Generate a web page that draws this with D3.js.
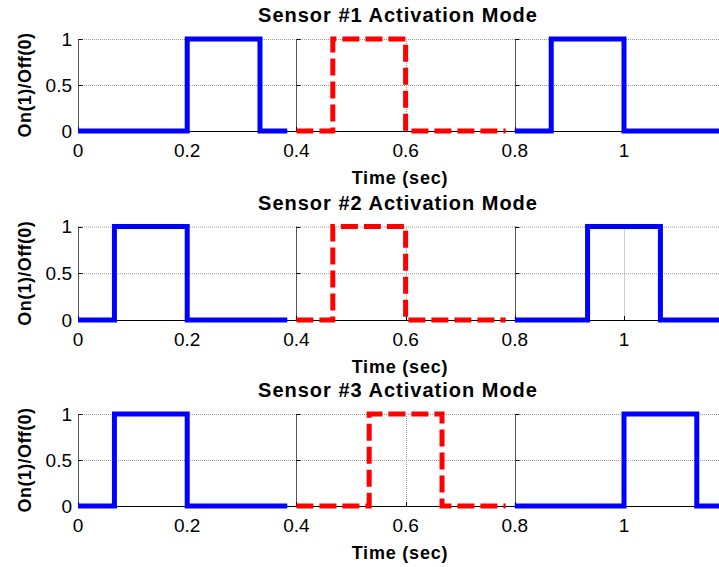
<!DOCTYPE html>
<html>
<head>
<meta charset="utf-8">
<script src="https://cdn.jsdelivr.net/npm/d3@7"></script>
<style>
  html, body { margin: 0; padding: 0; background: #fff; }
  svg { display: block; }
  text { font-family: Arial, "Liberation Sans", Helvetica, sans-serif; fill: #000; }
</style>
</head>
<body>
<svg id="chart" width="719" height="567"></svg>
<script>
// Activation windows: each sensor is observed in three consecutive frames
// of 0.4 s; within each frame the sensor is on between [on, off] seconds.
const sensorNames = ["Sensor #1", "Sensor #2", "Sensor #3"];
const frameStarts = [0, 0.4, 0.8];
const frameEnds = [0.3833, 0.7833, 1.1833];
const frameColors = ["#0000ff", "#ff0000", "#0000ff"];
const frameDashed = [false, true, false];

const sensor1Windows = [[0.2, 0.3333], [0.4667, 0.6], [0.8667, 1.0]];
const sensor2Windows = [[0.0667, 0.2], [0.4667, 0.6], [0.9333, 1.0667]];
const sensor3Windows = [[0.0667, 0.2], [0.5333, 0.6667], [1.0, 1.1333]];
const sensorWindows = [sensor1Windows, sensor2Windows, sensor3Windows];

const xTicks = [0, 0.2, 0.4, 0.6, 0.8, 1];
const xTickLabels = ["0", "0.2", "0.4", "0.6", "0.8", "1"];
const yTicks = [0, 0.5, 1];
const yTickLabels = ["0", "0.5", "1"];

const svg = d3.select("#chart");
const W = 719;

const x = d3.scaleLinear().domain([0, 1.2]).range([78, 733.2]);

// vertical placement of each panel: pixel of value 1 and value 0
const panels = [
  { top: 39, bottom: 131 },
  { top: 226.5, bottom: 320 },
  { top: 414, bottom: 506 }
];

panels.forEach((p, i) => {
  const y = d3.scaleLinear().domain([0, 1]).range([p.bottom, p.top]);
  const g = svg.append("g");

  // dotted grid
  g.selectAll("line.hgrid").data(yTicks.filter(v => v > 0)).join("line")
    .attr("x1", x(0)).attr("x2", W)
    .attr("y1", d => y(d) + 0.5).attr("y2", d => y(d) + 0.5)
    .attr("stroke", "#9a9a9a").attr("stroke-width", 1)
    .attr("stroke-dasharray", "1,1");
  g.selectAll("line.vgrid").data(xTicks.filter(v => v > 0)).join("line")
    .attr("x1", d => Math.round(x(d)) + 0.5).attr("x2", d => Math.round(x(d)) + 0.5)
    .attr("y1", y(1)).attr("y2", y(0))
    .attr("stroke", "#9a9a9a").attr("stroke-width", 1)
    .attr("stroke-dasharray", "1,1");

  // frame axes: a left spine with inward ticks at each frame start
  frameStarts.forEach(fs => {
    const xs = Math.round(x(fs)) + 0.5;
    g.append("line")
      .attr("x1", xs).attr("x2", xs)
      .attr("y1", y(1)).attr("y2", y(0))
      .attr("stroke", "#555").attr("stroke-width", 1);
    g.selectAll(null).data(yTicks).join("line")
      .attr("x1", xs).attr("x2", xs + 4)
      .attr("y1", d => Math.round(y(d)) + 0.5).attr("y2", d => Math.round(y(d)) + 0.5)
      .attr("stroke", "#000").attr("stroke-width", 1);
  });

  // bottom axis
  g.append("line")
    .attr("x1", x(0)).attr("x2", W)
    .attr("y1", Math.round(y(0)) + 0.5).attr("y2", Math.round(y(0)) + 0.5)
    .attr("stroke", "#000").attr("stroke-width", 1);
  g.selectAll(null).data(xTicks).join("line")
    .attr("x1", d => Math.round(x(d)) + 0.5).attr("x2", d => Math.round(x(d)) + 0.5)
    .attr("y1", Math.round(y(0)) + 0.5).attr("y2", Math.round(y(0)) - 4)
    .attr("stroke", "#000").attr("stroke-width", 1);

  // tick labels
  g.selectAll(null).data(yTicks).join("text")
    .attr("x", 72).attr("y", d => y(d))
    .attr("dy", "0.36em")
    .attr("text-anchor", "end")
    .attr("font-size", 19)
    .text((d, k) => yTickLabels[k]);
  g.selectAll(null).data(xTicks).join("text")
    .attr("x", d => x(d)).attr("y", y(0) + 26)
    .attr("text-anchor", "middle")
    .attr("font-size", 19)
    .text((d, k) => xTickLabels[k]);

  // titles and axis labels
  g.append("text")
    .attr("x", 398).attr("y", p.top - 17)
    .attr("text-anchor", "middle")
    .attr("font-size", 20).attr("font-weight", "bold")
    .attr("letter-spacing", 1)
    .text(sensorNames[i] + " Activation Mode");
  g.append("text")
    .attr("x", 400).attr("y", y(0) + 53)
    .attr("text-anchor", "middle")
    .attr("font-size", 18).attr("font-weight", "bold")
    .attr("letter-spacing", 0.8)
    .text("Time (sec)");
  g.append("text")
    .attr("transform", `translate(31,${(p.top + p.bottom) / 2}) rotate(-90)`)
    .attr("text-anchor", "middle")
    .attr("font-size", 18).attr("font-weight", "bold")
    .attr("letter-spacing", 0.4)
    .text("On(1)/Off(0)");

  // on/off step traces, one per frame
  const line = d3.line()
    .x(d => x(d[0])).y(d => y(d[1]))
    .curve(d3.curveStepAfter);
  sensorWindows[i].forEach((w, k) => {
    const pts = [[frameStarts[k], 0], [w[0], 1], [w[1], 0], [frameEnds[k], 0]];
    g.append("path")
      .attr("d", line(pts))
      .attr("fill", "none")
      .attr("stroke", frameColors[k])
      .attr("stroke-width", 5)
      .attr("stroke-linejoin", "miter")
      .attr("stroke-dasharray", frameDashed[k] ? "17,6" : null);
  });
});
</script>
</body>
</html>
